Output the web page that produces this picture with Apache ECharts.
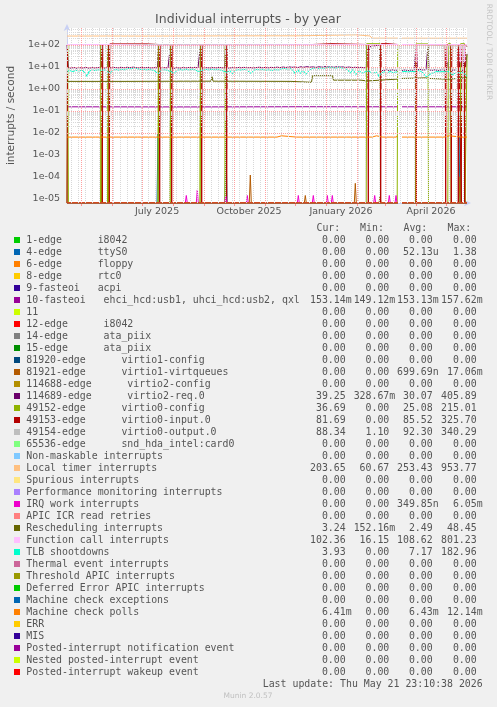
<!DOCTYPE html>
<html><head><meta charset="utf-8">
<script src="https://cdn.jsdelivr.net/npm/echarts@6/dist/echarts.min.js"></script>
<style>html,body{margin:0;padding:0;background:#F0F0F0;}#c{width:497px;height:707px;}</style>
</head><body><div id="c"></div>
<script>
// ---------- legend / table data ----------
const names = ['1-edge      i8042','4-edge      ttyS0','6-edge      floppy','8-edge      rtc0','9-fasteoi   acpi',
 '10-fasteoi   ehci_hcd:usb1, uhci_hcd:usb2, qxl','11','12-edge      i8042','14-edge      ata_piix','15-edge      ata_piix',
 '81920-edge      virtio1-config','81921-edge      virtio1-virtqueues','114688-edge      virtio2-config','114689-edge      virtio2-req.0',
 '49152-edge      virtio0-config','49153-edge      virtio0-input.0','49154-edge      virtio0-output.0','65536-edge      snd_hda_intel:card0',
 'Non-maskable interrupts','Local timer interrupts','Spurious interrupts','Performance monitoring interrupts','IRQ work interrupts',
 'APIC ICR read retries','Rescheduling interrupts','Function call interrupts','TLB shootdowns','Thermal event interrupts',
 'Threshold APIC interrupts','Deferred Error APIC interrupts','Machine check exceptions','Machine check polls','ERR','MIS',
 'Posted-interrupt notification event','Nested posted-interrupt event','Posted-interrupt wakeup event'];
const colors = ['#00CC00','#0066B3','#FF8000','#FFCC00','#330099','#990099','#CCFF00','#FF0000','#808080','#008F00',
 '#00487D','#B35A00','#B38F00','#6B006B','#8FB300','#B30000','#BEBEBE','#80FF80','#80C9FF','#FFC080','#FFE680','#AA80FF',
 '#EE00CC','#FF8080','#666600','#FFBFFF','#00FFCC','#CC6699','#999900','#00CC00','#0066B3','#FF8000','#FFCC00','#330099',
 '#990099','#CCFF00','#FF0000'];
const curVals = ['0.00','0.00','0.00','0.00','0.00','153.14m','0.00','0.00','0.00','0.00','0.00','0.00','0.00','39.25','36.69','81.69','88.34','0.00','0.00','203.65','0.00','0.00','0.00','0.00','3.24','102.36','3.93','0.00','0.00','0.00','0.00','6.41m','0.00','0.00','0.00','0.00','0.00'];
const minVals = ['0.00','0.00','0.00','0.00','0.00','149.12m','0.00','0.00','0.00','0.00','0.00','0.00','0.00','328.67m','0.00','0.00','1.10','0.00','0.00','60.67','0.00','0.00','0.00','0.00','152.16m','16.15','0.00','0.00','0.00','0.00','0.00','0.00','0.00','0.00','0.00','0.00','0.00'];
const avgVals = ['0.00','52.13u','0.00','0.00','0.00','153.13m','0.00','0.00','0.00','0.00','0.00','699.69n','0.00','30.07','25.08','85.52','92.30','0.00','0.00','253.43','0.00','0.00','349.85n','0.00','2.49','108.62','7.17','0.00','0.00','0.00','0.00','6.43m','0.00','0.00','0.00','0.00','0.00'];
const maxVals = ['0.00','1.38','0.00','0.00','0.00','157.62m','0.00','0.00','0.00','0.00','0.00','17.06m','0.00','405.89','215.01','325.70','340.29','0.00','0.00','953.77','0.00','0.00','6.05m','0.00','48.45','801.23','182.96','0.00','0.00','0.00','0.00','12.14m','0.00','0.00','0.00','0.00','0.00'];

// ---------- axis tick labels ----------
const xLabels = ['July 2025','October 2025','January 2026','April 2026'];
const xLabelDates = [[2025,6,16],[2025,9,16],[2026,0,16],[2026,3,16]];
const yExponents = [-5,-4,-3,-2,-1,0,1,2];

// ---------- series values: [day since left edge, value] ----------
const zeroLine = [[0,0],[331,0],[332,null],[335,0],[400,0]];
const ttyS0 = [[0,0],[90,0],[91,0.0098],[92,0],[158,0],[159,0.0035],[160,0],[331,0],[332,null],[335,0],[392,0],[393,0.0066],[394,0],[400,0]];
const fasteoi10 = [[0,0.153],[120,0.151],[240,0.154],[331,0.153],[332,null],[335,0.153],[400,0.153]];
const virtq81921 = [[0,0],[182.3,0],[183.3,1.2e-4],[184.3,0],[237.3,0],[238.3,1.4e-5],[239.3,0],[287.3,0],[288.3,5e-5],[289.3,0],[312,0],[313,1.3e-5],[314,0],[331,0],[332,null],[335,0],[392,0],[393,1e-4],[394,0],[400,0]];
const req114689 = [[0,100],[1.5,9.0],[4,8.8],[7,9.4],[10,8.6],[13,9.2],[16,8.9],[19,9.5],[22,8.7],[25,9.3],[28,8.9],[31,9.4],[33.5,9.0],[34.3,100],[35.5,9.2],[38,8.8],[40.5,9.1],[41.3,100],[42.5,9.3],[45,8.9],[48,9.5],[51,9.0],[54,9.6],[57,9.1],[60,9.7],[63,9.2],[66,9.8],[69,9.3],[72,9.0],[75,9.6],[78,9.1],[81,9.5],[84,8.9],[87,9.3],[90.5,9.0],[91.3,100],[92.5,9.1],[95,8.7],[98,9.3],[101,8.9],[102.8,9.2],[103.5,100],[104.5,9.0],[107,8.6],[110,9.2],[113,8.8],[116,9.4],[119,9.0],[122,9.5],[125,9.1],[128,9.6],[131,9.0],[132.8,9.2],[133.5,100],[134.5,9.1],[137,8.8],[140,9.3],[143,8.9],[146,9.4],[149,9.0],[152,9.5],[155,9.1],[157.8,9.0],[158.5,100],[159.5,9.2],[162,8.8],[165,9.3],[168,8.9],[171,9.5],[174,9.1],[177,9.6],[180,9.0],[183,9.4],[186,8.9],[189,9.3],[192,9.7],[195,9.1],[198,9.5],[201,9.0],[204,9.6],[207,9.2],[210,9.8],[213,9.3],[216,9.9],[219,9.4],[222,10.1],[225,9.6],[228,9.9],[231,9.4],[234,10.2],[237,9.7],[240,10.3],[243,9.8],[246,10.0],[249,9.5],[252,10.2],[255,9.7],[258,10.4],[261,9.9],[264,10.1],[267,9.6],[270,10.3],[273,9.8],[276,10.0],[279,9.5],[282,9.9],[285,9.3],[288,9.7],[291,9.2],[294,9.6],[297,9.1],[299.3,9.4],[300,95],[302,60],[303,85],[305,100],[312.5,100],[313.5,7.2],[316,6.8],[319,7.3],[322,6.9],[325,7.4],[328,7.0],[331,7.2],[332,null],[335,6.9],[338,7.3],[341,6.8],[344,7.2],[347,6.9],[348.5,7.1],[349.3,100],[350.3,7.4],[353,7.8],[356,7.2],[359,7.5],[361,100],[362,7.3],[365,7.0],[368,7.4],[371,6.9],[374,7.3],[377,7.0],[379.5,7.2],[380.3,100],[381.3,7.4],[384,7.0],[387,7.3],[390,6.9],[392.5,7.2],[393.3,100],[394.3,7.1],[396.5,7.0],[397.3,100],[398.3,7.2],[399.5,7.0],[400,39.25]];
const config49152 = [[0,0],[0.7,100],[1.4,0],[33.5,0],[34,100],[34.5,0],[40.5,0],[41,100],[41.5,0],[90.8,0],[91.3,100],[91.8,0],[102.8,0],[103.3,100],[103.8,0],[132.8,0],[133.3,100],[133.8,0],[157.8,0],[158.3,100],[158.8,0],[299.2,0],[299.7,115],[313,115],[313.5,0],[330.2,0],[330.7,110],[331,110],[332,null],[335,0],[348.5,0],[349,112],[361,112],[361.5,0],[380.8,0],[381.3,115],[383.5,115],[384,0],[393.2,0],[393.7,115],[397.5,115],[398,0],[399.5,0],[400,36.69]];
const input49153 = [[0,0],[0.5,105],[34.8,105],[35.3,0],[35.8,105],[41.8,105],[42.3,0],[42.8,112],[80,112],[80.5,105],[92.2,105],[92.7,0],[93.2,105],[104.2,105],[104.7,0],[105.2,105],[134.2,105],[134.7,0],[135.2,105],[159.2,105],[159.7,0],[160.2,105],[245,105],[245.5,115],[265,115],[265.5,105],[300.8,105],[301.3,0],[301.8,105],[313.2,105],[313.7,0],[314.2,115],[321,115],[321.5,105],[331,105],[332,null],[335,105],[348.8,105],[349.3,0],[349.8,105],[378.2,105],[378.7,0],[379.2,105],[383.8,105],[384.3,0],[384.8,105],[390.8,105],[391.3,0],[391.8,105],[393.8,105],[394.3,0],[394.8,105],[397.2,105],[397.7,0],[398.2,105],[400,81.69]];
const output49154 = [[0,105],[331,105],[332,null],[335,105],[400,88.34]];
const localTimer = [[0,255],[40,256],[80,254],[120,257],[160,260],[200,262],[232,262],[234,288],[289,290],[291,262],[303,258],[305,205],[331,205],[332,null],[335,204],[370,203],[400,203.65]];
const irqWork = [[0,0],[118.3,0],[119.3,1.4e-5],[120.3,0],[129.3,0],[130.3,2.5e-5],[131.3,0],[157.7,0],[158.7,1.3e-5],[159.7,0],[179.3,0],[180.3,1.4e-5],[181.3,0],[230.3,0],[231.3,1.4e-5],[232.3,0],[245.3,0],[246.3,1.4e-5],[247.3,0],[259.3,0],[260.3,1.4e-5],[261.3,0],[264.3,0],[265.3,1.4e-5],[266.3,0],[306.7,0],[307.7,1.4e-5],[308.7,0],[321.3,0],[322.3,1.4e-5],[323.3,0],[328,0],[329,1.4e-5],[330,0],[331,0],[332,null],[335,0],[400,0]];
const resched = [[0,2.2],[14,2.2],[14.7,2.5],[15.5,2.2],[42,2.2],[43,1.9],[44,2.2],[60,2.2],[61,2.5],[62,2.2],[119,2.25],[120,2.5],[121,2.25],[144,2.25],[145,3.6],[146,2.25],[224,2.2],[225,2.0],[244.5,2.0],[245.5,4.0],[265.5,4.0],[266.5,2.5],[294,2.5],[296,2.2],[300,2.3],[301,2.8],[331,2.8],[332,null],[335,3.0],[350,3.1],[352,3.3],[358,3.2],[362,3.0],[378,2.8],[383,2.8],[385,3.0],[400,3.24]];
const funcCall = [[0,105],[42.8,105],[43,98],[80,98],[80.3,105],[331,105],[332,null],[335,105],[348.8,105],[349.3,16.5],[349.8,105],[379.8,105],[380.3,16.5],[380.8,105],[392.8,105],[393.3,16.5],[393.8,105],[396.8,105],[397.3,16.5],[397.8,105],[400,102.36]];
const tlb = [[0,6.5],[3,6.8],[6,6.2],[9,7.0],[12,6.6],[15,7.1],[18,5.5],[20,3.7],[22,6.4],[25,7.2],[28,6.9],[31,7.4],[34,7.0],[37,7.3],[40,6.8],[43,5.0],[46,7.2],[49,7.6],[52,7.1],[55,7.8],[58,7.4],[61,8.6],[64,8.2],[67,8.9],[70,8.4],[73,7.6],[76,7.9],[79,7.3],[82,7.7],[85,7.2],[88,6.6],[91,4.8],[94,6.9],[97,7.4],[100,7.1],[104,6.2],[107,5.0],[110,7.0],[113,7.6],[116,7.2],[119,7.8],[122,7.3],[125,7.9],[128,7.4],[131,6.3],[133,5.2],[136,7.1],[139,7.7],[142,7.3],[145,7.9],[148,7.4],[151,7.6],[154,7.1],[157,6.4],[160,5.6],[163,7.0],[165,4.8],[168,6.9],[171,7.5],[174,7.2],[177,7.8],[180,7.1],[184,5.1],[187,7.2],[190,7.7],[193,7.3],[196,7.6],[199,7.1],[202,7.4],[205,6.9],[208,7.6],[211,7.2],[214,8.1],[217,8.6],[220,8.0],[224,8.4],[227,6.2],[228,5.0],[231,7.5],[233,4.9],[236,7.2],[239,4.6],[242,6.8],[245,8.5],[248,8.9],[251,8.3],[254,9.1],[257,8.6],[260,9.4],[263,9.8],[266,9.2],[269,8.8],[272,9.6],[275,9.0],[278,8.5],[281,7.2],[283,5.1],[286,7.8],[289,4.5],[292,6.9],[295,5.3],[298,5.9],[301,6.8],[304,5.6],[307,5.4],[310,5.8],[312,3.6],[314,5.2],[317,6.0],[320,5.4],[323,6.2],[326,5.5],[329,5.9],[331,5.6],[332,null],[335,6.0],[338,6.3],[341,5.8],[344,6.4],[347,6.1],[350,7.0],[353,6.6],[356,5.4],[359,3.6],[361,3.2],[364,4.9],[367,5.6],[370,6.2],[373,5.9],[376,6.4],[379,5.8],[382,6.1],[385,4.4],[387,4.2],[390,5.7],[393,5.2],[396,5.8],[399,3.9],[400,3.93]];
const mcPolls = [[0,0.0064],[13.5,0.0064],[14,0.0073],[14.5,0.0064],[28.5,0.0064],[29,0.0073],[29.5,0.0064],[42.5,0.0064],[43,0.0073],[43.5,0.0064],[56.5,0.0064],[57,0.0073],[57.5,0.0064],[70.5,0.0064],[71,0.0073],[71.5,0.0064],[85.5,0.0064],[86,0.0073],[86.5,0.0064],[100.5,0.0064],[101,0.0073],[101.5,0.0064],[114.5,0.0064],[115,0.0073],[115.5,0.0064],[129.5,0.0064],[130,0.0073],[130.5,0.0064],[144.5,0.0064],[145,0.0073],[145.5,0.0064],[159.5,0.0064],[160,0.0073],[160.5,0.0064],[173.5,0.0064],[174,0.0073],[174.5,0.0064],[181.5,0.0064],[182,0.0073],[182.5,0.0064],[199.5,0.0064],[200,0.0073],[200.5,0.0064],[210,0.0064],[210.5,0.0073],[214.5,0.0073],[215,0.0064],[229.5,0.0064],[230,0.0073],[230.5,0.0064],[249.5,0.0064],[250,0.0073],[250.5,0.0064],[254.5,0.0064],[255,0.0073],[255.5,0.0064],[279.5,0.0064],[280,0.0073],[280.5,0.0064],[305,0.0064],[305.5,0.0073],[309.5,0.0073],[310,0.0064],[315.5,0.0064],[316,0.0073],[316.5,0.0064],[329.5,0.0064],[330,0.0073],[330.5,0.0064],[331,0.0064],[332,null],[335,0.0064],[336,0.0073],[336.5,0.0064],[344.5,0.0064],[345,0.0073],[345.5,0.0064],[377,0.0064],[377.5,0.0073],[382.5,0.0073],[383,0.0064],[394.5,0.0064],[395,0.0073],[395.5,0.0064],[400,0.00641]];

const seriesValues = {1: ttyS0, 5: fasteoi10, 11: virtq81921, 13: req114689, 14: config49152, 15: input49153, 16: output49154,
  19: localTimer, 22: irqWork, 24: resched, 25: funcCall, 26: tlb, 31: mcPolls};

// ---------- geometry / style ----------
const Y_MIN = 6.37e-6, Y_MAX = 594;
const DAY = 86400000;
const T0 = new Date(2025,3,16,23,10,38).getTime();
const T1 = T0 + 400*DAY;
const PL = 67, PT = 28, PW = 400, PH = 175;
const TXT = '#555555';
const MONO = '"DejaVu Sans Mono", monospace';
const SANS = '"DejaVu Sans", sans-serif';

function toPts(arr){
  return arr.map(p => [T0 + p[0]*DAY, p[1] === null ? '-' : (p[1] <= 0 ? Y_MIN : p[1])]);
}

// grid lines
const monthStarts = [];
for (let i = 0; i < 14; i++) { const t = new Date(2025, 3 + i, 1).getTime(); if (t > T0 && t < T1) monthStarts.push(t); }
const weekLines = [];
for (let t = new Date(2025,3,21).getTime(); t < T1; t += 7*DAY) weekLines.push(t);
const yMajor = yExponents.map(e => Math.pow(10, e));
const yMinor = [];
for (let e = -6; e <= 2; e++) for (let k = 2; k <= 9; k++) { const v = k*Math.pow(10,e); if (v > Y_MIN && v < Y_MAX) yMinor.push(v); }
const xLabelTimes = xLabelDates.map(d => new Date(d[0], d[1], d[2]).getTime());

const gridSeriesMinor = {
  type:'line', data:[[T0,'-']], silent:true, z:1, symbol:'none',
  markLine:{ silent:true, symbol:['none','none'], animation:false, label:{show:false},
    lineStyle:{color:'#D8D8D8', width:1, type:[1,1]},
    emphasis:{disabled:true},
    data: weekLines.map(t => ({xAxis:t})).concat(yMinor.map(v => ({yAxis:v}))) }
};
const gridSeriesMajor = {
  type:'line', data:[[T0,'-']], silent:true, z:1, symbol:'none',
  markLine:{ silent:true, symbol:['none','none'], animation:false, label:{show:false},
    lineStyle:{color:'#FFA0A0', width:1, type:[1,1]},
    emphasis:{disabled:true},
    data: monthStarts.map(t => ({xAxis:t})).concat(yMajor.map(v => ({yAxis:v}))) }
};

const dataSeries = names.map((n, i) => ({
  name: n, type:'line', z:2, symbol:'none', showSymbol:false, silent:true, animation:false,
  connectNulls:false, clip:true,
  lineStyle:{color: colors[i], width:1},
  emphasis:{disabled:true},
  data: toPts(seriesValues[i] || zeroLine)
}));

// ---------- text graphics ----------
const g = [];
g.push({type:'text', x:248, y:19.5, silent:true, style:{text:'Individual interrupts - by year', fill:TXT, fontSize:12.5, fontFamily:SANS, align:'center', verticalAlign:'middle'}});
g.push({type:'text', x:11, y:115.5, rotation:Math.PI/2, silent:true, style:{text:'interrupts / second', fill:TXT, fontSize:10.5, fontFamily:SANS, align:'center', verticalAlign:'middle'}});
g.push({type:'text', x:489, y:52, rotation:-Math.PI/2, silent:true, style:{text:'RRDTOOL / TOBI OETIKER', fill:'#C4C4C4', fontSize:7.5, fontFamily:SANS, align:'center', verticalAlign:'middle'}});
const colR = [345.7, 389.3, 432.7, 476.7];
const CW = 5.96;
['Cur:','Min:','Avg:','Max:'].forEach((h, j) => {
  g.push({type:'text', x:colR[j]-CW+0.5, y:228, silent:true, style:{text:h, fill:TXT, fontSize:9.9, fontFamily:MONO, align:'right', verticalAlign:'middle'}});
});
function splitVal(s){ const last = s[s.length-1]; return /[a-z]/i.test(last) ? [s.slice(0,-1), last] : [s, '']; }
names.forEach((n, i) => {
  const y = 240 + 12*i;
  g.push({type:'rect', silent:true, shape:{x:14, y:y-3, width:6, height:6}, style:{fill:colors[i]}});
  g.push({type:'text', x:26.3, y:y, silent:true, style:{text:n, fill:TXT, fontSize:9.9, fontFamily:MONO, align:'left', verticalAlign:'middle'}});
  [curVals[i], minVals[i], avgVals[i], maxVals[i]].forEach((v, j) => {
    const [num, suf] = splitVal(v);
    g.push({type:'text', x:colR[j], y:y, silent:true, style:{text:num, fill:TXT, fontSize:9.9, fontFamily:MONO, align:'right', verticalAlign:'middle'}});
    if (suf) g.push({type:'text', x:colR[j], y:y, silent:true, style:{text:suf, fill:TXT, fontSize:9.9, fontFamily:MONO, align:'left', verticalAlign:'middle'}});
  });
});
g.push({type:'text', x:482.7, y:684, silent:true, style:{text:'Last update: Thu May 21 23:10:38 2026', fill:TXT, fontSize:9.9, fontFamily:MONO, align:'right', verticalAlign:'middle'}});
g.push({type:'text', x:248, y:696, silent:true, style:{text:'Munin 2.0.57', fill:'#C0C0C0', fontSize:7.5, fontFamily:SANS, align:'center', verticalAlign:'middle'}});

function fmtExp(v){
  const l = Math.log10(v), e = Math.round(l);
  if (Math.abs(l - e) > 0.01 || yExponents.indexOf(e) < 0) return '';
  const a = Math.abs(e);
  return '1e' + (e < 0 ? '-' : '+') + (a < 10 ? '0' + a : '' + a);
}
function fmtX(v){
  let best = 0, bd = Infinity;
  xLabelTimes.forEach((t,i)=>{ const d=Math.abs(t-v); if(d<bd){bd=d;best=i;} });
  return bd < 2*DAY ? xLabels[best] : '';
}

const option = {
  backgroundColor:'#F0F0F0',
  animation:false,
  grid:{left:PL, top:PT, width:PW, height:PH, show:true, backgroundColor:'#FFFFFF', borderWidth:0, containLabel:false, outerBoundsMode:'none'},
  xAxis:{type:'value', min:T0, max:T1, scale:true, splitLine:{show:false},
    axisLine:{show:true, onZero:false, lineStyle:{color:'#C8D0F4', width:1}, symbol:['none','arrow'], symbolSize:[5,7], symbolOffset:[0,4]},
    axisTick:{show:true, customValues:monthStarts, length:3, lineStyle:{color:'#FF9090'}},
    axisLabel:{show:true, customValues:xLabelTimes, margin:4, color:TXT, fontSize:9.5, fontFamily:SANS, hideOverlap:false, formatter:fmtX}
  },
  yAxis:{type:'log', logBase:10, min:Y_MIN, max:Y_MAX, splitNumber:8, splitLine:{show:false}, axisTick:{show:false},
    axisLine:{show:true, onZero:false, lineStyle:{color:'#C8D0F4', width:1}, symbol:['none','arrow'], symbolSize:[5,7], symbolOffset:[0,4]},
    axisLabel:{margin:7, color:TXT, fontSize:9.5, fontFamily:SANS, formatter:fmtExp, showMinLabel:true, showMaxLabel:true}
  },
  series:[gridSeriesMinor, gridSeriesMajor].concat(dataSeries),
  graphic:g
};
const chart = echarts.init(document.getElementById('c'), null, {renderer:'canvas'});
chart.setOption(option);
</script></body></html>
